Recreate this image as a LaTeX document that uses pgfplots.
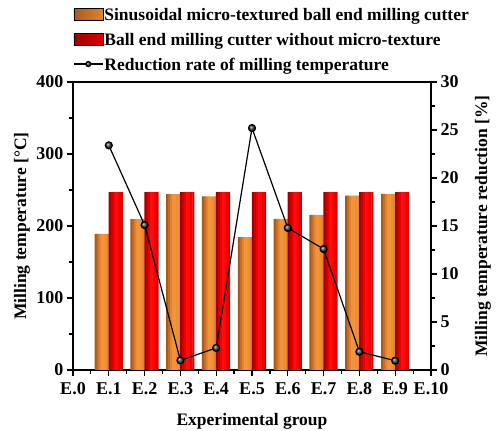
\documentclass[border=0pt]{standalone}
\usepackage{fontspec}
\setmainfont{Liberation Serif}
\usepackage{pgfplots}
\pgfplotsset{compat=1.18}
% orange bar shades, left edge to right edge
\definecolor{orA}{HTML}{A65A1F}
\definecolor{orB}{HTML}{C46D27}
\definecolor{orC}{HTML}{E2832F}
\definecolor{orD}{HTML}{F29339}
\definecolor{orE}{HTML}{F3943A}
\definecolor{orF}{HTML}{EE8D33}
\definecolor{orG}{HTML}{E2832D}
% red bar shades, left edge to right edge
\definecolor{rdA}{HTML}{A00000}
\definecolor{rdB}{HTML}{C80000}
\definecolor{rdC}{HTML}{EE0000}
\definecolor{rdD}{HTML}{FF0E0E}
\definecolor{rdE}{HTML}{FF0808}
\definecolor{rdF}{HTML}{F20000}
\definecolor{rdG}{HTML}{DC0000}

\pgfplotstableread{
x  tex    plain  red
1  189.0  247.0  23.4
2  209.4  247.0  15.1
3  244.3  247.0  1.0
4  241.0  247.0  2.3
5  184.6  247.0  25.2
6  210.0  247.0  14.8
7  215.6  247.0  12.6
8  242.2  247.0  1.9
9  244.6  247.0  0.97
}\datatable

\newcommand\lblfont{\bfseries\fontsize{17.5}{19}\selectfont}

\pgfplotsset{
  common/.style={
    scale only axis, width=358pt, height=288pt,
    xmin=0, xmax=10,
    tick align=outside,
    major tick length=6pt, minor tick length=3.5pt,
    axis line style={line width=1.5pt},
    every tick/.style={black, line width=1.2pt},
    ticklabel style={font=\bfseries\fontsize{18}{18}\selectfont},
    /pgf/number format/assume math mode=true,
    label style={font=\lblfont},
  },
  strip/.style={ybar, bar width=2.4pt, draw=none, forget plot},
  orlegend/.style={legend image code/.code={
      \path[left color=orA, middle color=orD, right color=orG]
        (0pt,-6pt) rectangle (29pt,6pt);}},
  rdlegend/.style={legend image code/.code={
      \path[left color=rdA, middle color=rdD, right color=rdG]
        (0pt,-6pt) rectangle (29pt,6pt);}},
  linelegend/.style={legend image code/.code={
      \draw[##1, mark=none] (0pt,0pt) -- (29pt,0pt);
      \draw[##1] plot coordinates {(14.5pt,0pt)};}},
}

% one shaded column series: seven narrow strips side by side
\newcommand\shadedbars[3]{%
  \addplot[strip, fill=#3A, bar shift=#2-6pt] table[x=x, y=#1] {\datatable};
  \addplot[strip, fill=#3B, bar shift=#2-4pt] table[x=x, y=#1] {\datatable};
  \addplot[strip, fill=#3C, bar shift=#2-2pt] table[x=x, y=#1] {\datatable};
  \addplot[strip, fill=#3D, bar shift=#2] table[x=x, y=#1] {\datatable};
  \addplot[strip, fill=#3E, bar shift=#2+2pt] table[x=x, y=#1] {\datatable};
  \addplot[strip, fill=#3F, bar shift=#2+4pt] table[x=x, y=#1] {\datatable};
  \addplot[strip, fill=#3G, bar shift=#2+6pt, bar width=2pt] table[x=x, y=#1] {\datatable};
}

\begin{document}
\begin{tikzpicture}[font=\lblfont]
\path[use as bounding box] (-73pt,-61pt) rectangle (425pt,370pt);
\begin{axis}[
  common,
  ymin=0, ymax=400,
  xtick={0,...,10},
  xticklabels={E.0,E.1,E.2,E.3,E.4,E.5,E.6,E.7,E.8,E.9,E.10},
  xticklabel style={yshift=-3pt},
  ytick={0,100,...,400},
  minor x tick num=1, minor y tick num=1,
  xtick pos=left, ytick pos=left,
  xlabel={Experimental group},
  ylabel={Milling temperature [°C]},
  ylabel style={at={(axis description cs:-0.1425,0.5)}, anchor=center},
  xlabel style={at={(axis description cs:0.5,-0.178)}, anchor=center},
  legend cell align=left,
  legend style={at={(axis description cs:0.0,1.259)}, anchor=north west,
    draw=none, fill=none, row sep=10.5pt, inner sep=0pt,
    nodes={inner sep=1pt, text depth=0pt},
    /tikz/column 2/.style={column sep=0pt, nodes={xshift=3pt}},
    font=\lblfont},
]
\shadedbars{tex}{-7pt}{or}
\shadedbars{plain}{7pt}{rd}
\addlegendimage{orlegend}
\addlegendentry{Sinusoidal micro-textured ball end milling cutter}
\addlegendimage{rdlegend}
\addlegendentry{Ball end milling cutter without micro-texture}
\addlegendimage{black, line width=1.2pt, mark=ball, mark size=2.5pt,
  mark options={ball color=black!75}, linelegend}
\addlegendentry{Reduction rate of milling temperature}
\end{axis}

\begin{axis}[
  common,
  ymin=0, ymax=30,
  ytick={0,5,...,30},
  minor y tick num=1,
  axis x line=none,
  axis y line*=right,
  ylabel={Milling temperature reduction [\%]},
  ylabel style={at={(axis description cs:1.145,0.5)}, anchor=center},
]
\addplot[black, line width=1.2pt, mark=ball, mark size=3.5pt,
  mark options={ball color=black!75}]
  table[x=x, y=red] {\datatable};
\end{axis}
\end{tikzpicture}
\end{document}
